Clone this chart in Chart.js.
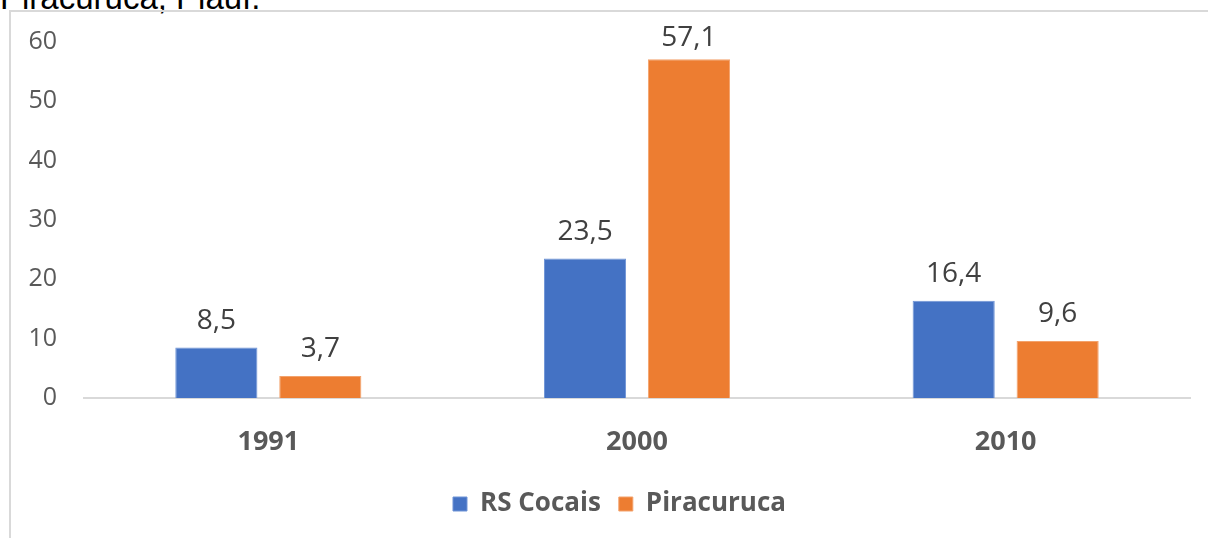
<!DOCTYPE html>
<html>
<head>
<meta charset="utf-8">
<script src="https://cdn.jsdelivr.net/npm/chart.js"></script>
<style>
  body { margin: 0; background: #fff; width: 1208px; height: 538px; overflow: hidden; position: relative; }
  #titulo { position: absolute; left: 0; top: -19px; font: 33px "Liberation Sans", Arial, sans-serif; line-height: 33px; color: #000; white-space: nowrap; }
  #caixa { position: absolute; left: 9px; top: 10px; width: 1199px; height: 528px; border-top: 2px solid #d9d9d9; border-left: 2px solid #d9d9d9; box-sizing: border-box; }
</style>
</head>
<body>
<div id="titulo">Piracuruca, Piauí.</div>
<div id="caixa"><canvas id="grafico" width="1197" height="526"></canvas></div>
<script>
// anos no eixo x
const anos = ["1991", "2000", "2010"];
// valores de cada série
const rsCocais = [8.5, 23.5, 16.4];
const piracuruca = [3.7, 57.1, 9.6];
// marcas do eixo y
const ticksY = [0, 10, 20, 30, 40, 50, 60];

const fonte = "'Open Sans', sans-serif";

// escreve os valores em cima das barras (com vírgula)
const rotulos = {
  id: 'rotulos',
  afterLayout(chart) {
    // legenda um pouco mais pra direita, como no original
    chart.legend.left += 19;
    chart.legend.right += 19;
  },
  afterDatasetsDraw(chart) {
    const ctx = chart.ctx;
    ctx.save();
    ctx.font = "28px " + fonte;
    ctx.fillStyle = "#404040";
    ctx.textAlign = "center";
    ctx.textBaseline = "alphabetic";
    chart.data.datasets.forEach((ds, i) => {
      chart.getDatasetMeta(i).data.forEach((bar, j) => {
        let txt = ds.data[j].toFixed(1).replace('.', ',');
        // não deixa o rótulo subir demais (igual o excel faz)
        let y = Math.max(bar.y - 19, chart.chartArea.top + 4);
        ctx.fillText(txt, bar.x, y);
      });
    });
    ctx.restore();
  }
};

const ctx = document.getElementById('grafico').getContext('2d');

new Chart(ctx, {
  type: 'bar',
  data: {
    labels: anos,
    datasets: [
      { label: "RS Cocais", data: rsCocais, backgroundColor: "#4472C4", borderColor: "#6f94d6", borderWidth: 1 },
      { label: "Piracuruca", data: piracuruca, backgroundColor: "#ED7D31", borderColor: "#f3a26c", borderWidth: 1 }
    ]
  },
  options: {
    responsive: false,
    animation: false,
    categoryPercentage: 0.564,
    barPercentage: 0.79,
    layout: { padding: { top: 30, right: 18, left: 0, bottom: 11 } },
    plugins: {
      tooltip: { enabled: false },
      legend: {
        position: 'bottom',
        labels: {
          font: { family: fonte, size: 26, weight: 'bold' },
          color: "#595959",
          boxWidth: 14,
          boxHeight: 14,
          padding: 18
        }
      }
    },
    scales: {
      x: {
        grid: { display: false },
        border: { color: "#d9d9d9", width: 2 },
        ticks: { font: { family: fonte, size: 27, weight: 'bold' }, color: "#595959", padding: 20 },
        afterFit(s) { s.height = 75; }
      },
      y: {
        min: 0,
        max: 60,
        afterBuildTicks(s) { s.ticks = ticksY.map(v => ({ value: v })); },
        grid: { display: false, drawTicks: false },
        border: { display: false },
        ticks: { font: { family: fonte, size: 25 }, color: "#595959", padding: 27 },
        afterFit(s) { s.width = 73; s.paddingTop = 0; s.paddingBottom = 0; }
      }
    }
  },
  plugins: [rotulos]
});
</script>
</body>
</html>
